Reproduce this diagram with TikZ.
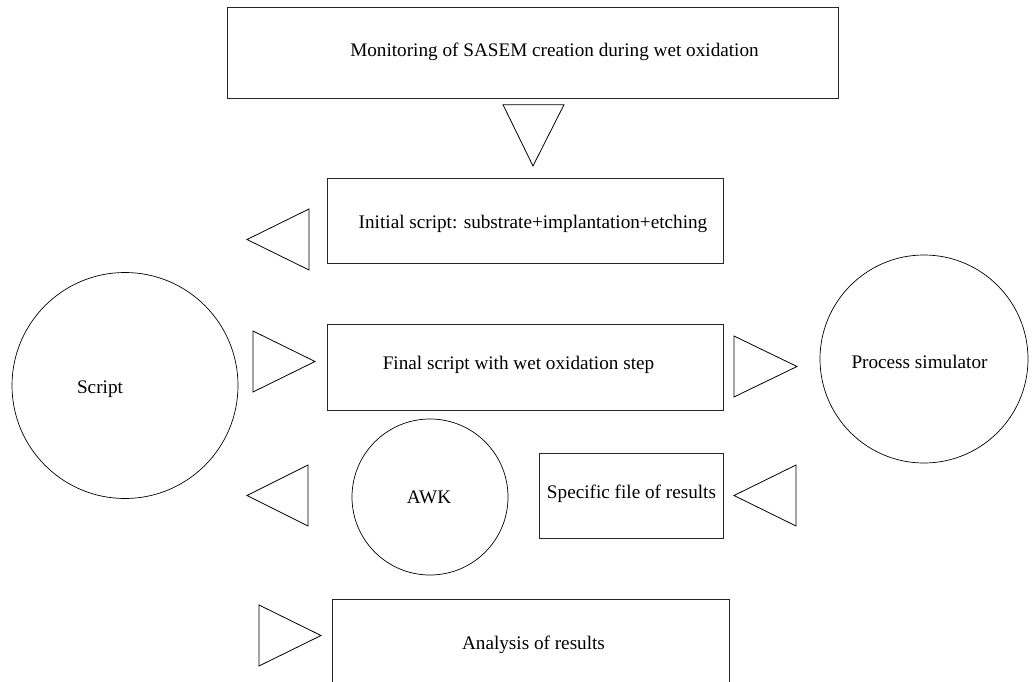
\documentclass[tikz,border=0pt]{standalone}
\usepackage{fontspec}
\setmainfont{Liberation Serif}
\begin{document}
\begin{tikzpicture}[x=1pt,y=-1pt]
\tikzset{
  box/.style={draw=black!85, line width=0.8pt, rectangle, inner sep=0pt},
  ring/.style={draw=black, line width=0.7pt, circle, inner sep=0pt},
  tri/.style={draw=black, line width=0.8pt, line join=miter},
  lbl/.style={font=\fontsize{19.2}{23}\selectfont, anchor=base, inner sep=0pt},
}
\useasboundingbox (0,0) rectangle (1034,682);
\clip (0,0) rectangle (1034,682);
% boxes
\node[box, minimum width=611pt, minimum height=91pt] (topbox) at (532.5,52.5) {};
\node[box, minimum width=396pt, minimum height=85pt] (initbox) at (525,220.5) {};
\node[box, minimum width=396pt, minimum height=86pt] (finalbox) at (525,367) {};
\node[box, minimum width=184pt, minimum height=85pt] (specbox) at (631,495.5) {};
\node[box, minimum width=397pt, minimum height=101pt] (anabox) at (530.5,649.5) {};
% circles
\node[ring, minimum size=226pt] (script) at (125,385.5) {};
\node[ring, minimum size=208pt] (procsim) at (924,359) {};
\node[ring, minimum size=156pt] (awk) at (430,497) {};
% texts
\node[lbl] (ttop) at (554.5,56.5) {Monitoring of SASEM creation during wet oxidation};
\node[lbl] (tinit) at (533,228.5) {Initial script: substrate+implantation+etching};
\node[lbl] (tfinal) at (518.5,369.5) {Final script with wet oxidation step};
\node[lbl] (tproc) at (919.5,368.5) {Process simulator};
\node[lbl] (tscript) at (100,393) {Script};
\node[lbl] (tawk) at (429,503.5) {AWK};
\node[lbl] (tspec) at (631.5,498.5) {Specific file of results};
\node[lbl] (tana) at (533.5,649.5) {Analysis of results};
% triangles
\draw[tri] (503,104.7) -- (564,104.7) -- (533,166) -- cycle;
\draw[tri] (247,239.5) -- (309,209) -- (309,270) -- cycle;
\draw[tri] (253,331) -- (315,361.5) -- (253,392) -- cycle;
\draw[tri] (734,336) -- (797,366.5) -- (734,397) -- cycle;
\draw[tri] (247,495.5) -- (308,465) -- (308,526) -- cycle;
\draw[tri] (734,495.5) -- (796,465) -- (796,526) -- cycle;
\draw[tri] (259,605) -- (321,635.5) -- (259,666) -- cycle;
\end{tikzpicture}
\end{document}
